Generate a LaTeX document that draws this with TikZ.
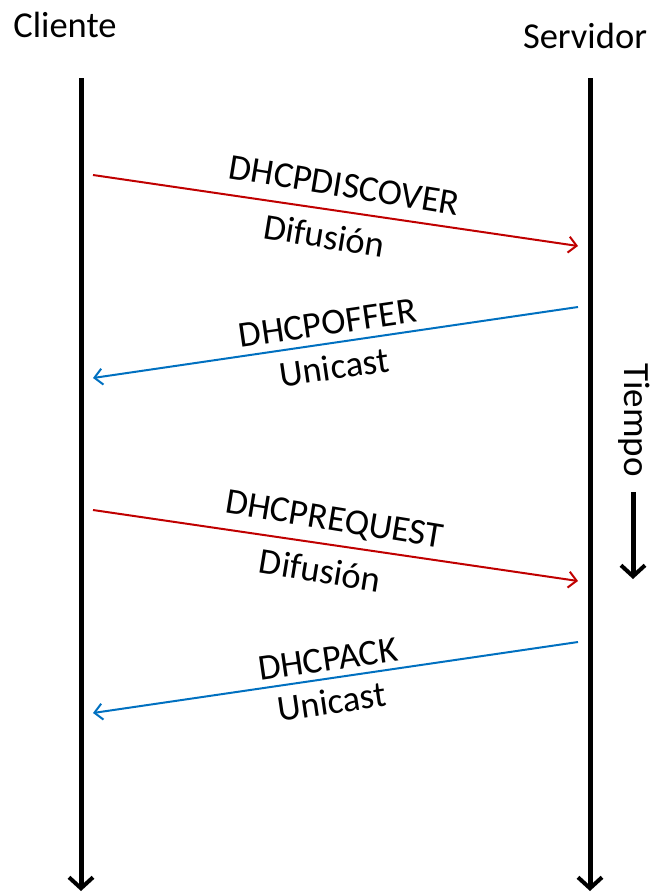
\documentclass[tikz,border=0pt]{standalone}
\usepackage{fontspec}
\setmainfont{Carlito}
\usetikzlibrary{arrows.meta,calc}
\definecolor{msgred}{RGB}{192,0,0}
\definecolor{msgblue}{RGB}{0,112,192}
\begin{document}
\begin{tikzpicture}[x=1pt,y=1pt,
  lifeline/.style={line width=5pt,-{Straight Barb[length=11pt,width=24pt,line width=4pt]}},
  tomsg/.style={msgred,line width=2pt,-{Straight Barb[length=8pt,width=16pt,line width=2pt]}},
  frommsg/.style={msgblue,line width=2pt,-{Straight Barb[length=8pt,width=16pt,line width=2pt]}},
  lbl/.style={font=\fontsize{36.5}{44}\selectfont,text=black,inner sep=0pt},
  downlbl/.style={lbl,anchor=base,rotate=-9.3},
  uplbl/.style={lbl,anchor=base,rotate=8.3},
]
\useasboundingbox (0,-892) rectangle (652,0);

% participants
\node[lbl,anchor=base] (cl) at (65,-37) {Cliente};
\node[lbl,anchor=base] (sv) at (585,-48) {Servidor};

% lifelines
\coordinate (cTop) at (81,-78);
\coordinate (cBot) at (81,-891);
\coordinate (sTop) at (590,-78);
\coordinate (sBot) at (590,-891);
\draw[lifeline] (cTop) -- (cBot);
\draw[lifeline] (sTop) -- (sBot);

% message end points
\coordinate (d0) at (93,-175);  \coordinate (d1) at (578,-246);
\coordinate (o0) at (578,-307); \coordinate (o1) at (93,-378);
\coordinate (r0) at (93,-510);  \coordinate (r1) at (578,-581);
\coordinate (a0) at (578,-642); \coordinate (a1) at (93,-713);

% messages
\draw[tomsg] (d0) -- (d1);
\draw[frommsg] (o0) -- (o1);
\draw[tomsg] (r0) -- (r1);
\draw[frommsg] (a0) -- (a1);

% message labels: name above the arrow, delivery mode below it
\node[downlbl] (dName) at ($(d0)!0.51!(d1)!14.5pt!90:(d1)$) {DHCPDISCOVER};
\node[downlbl] (dMode) at ($(d0)!0.485!(d1)!39pt!-90:(d1)$) {Difusión};
\node[uplbl] (oName) at ($(o0)!0.51!(o1)!8.5pt!-90:(o1)$) {DHCPOFFER};
\node[uplbl] (oMode) at ($(o0)!0.51!(o1)!36.5pt!90:(o1)$) {Unicast};
\node[downlbl] (rName) at ($(r0)!0.49!(r1)!14.5pt!90:(r1)$) {DHCPREQUEST};
\node[downlbl] (rMode) at ($(r0)!0.476!(r1)!39pt!-90:(r1)$) {Difusión};
\node[uplbl] (aName) at ($(a0)!0.51!(a1)!7.5pt!-90:(a1)$) {DHCPACK};
\node[uplbl] (aMode) at ($(a0)!0.515!(a1)!35.5pt!90:(a1)$) {Unicast};

% time axis
\node[lbl,font=\fontsize{37}{44}\selectfont,rotate=-90,anchor=base] (tm) at (624,-420) {Tiempo};
\coordinate (t0) at (633,-492);
\coordinate (t1) at (633,-579);
\draw[lifeline] (t0) -- (t1);
\end{tikzpicture}
\end{document}
